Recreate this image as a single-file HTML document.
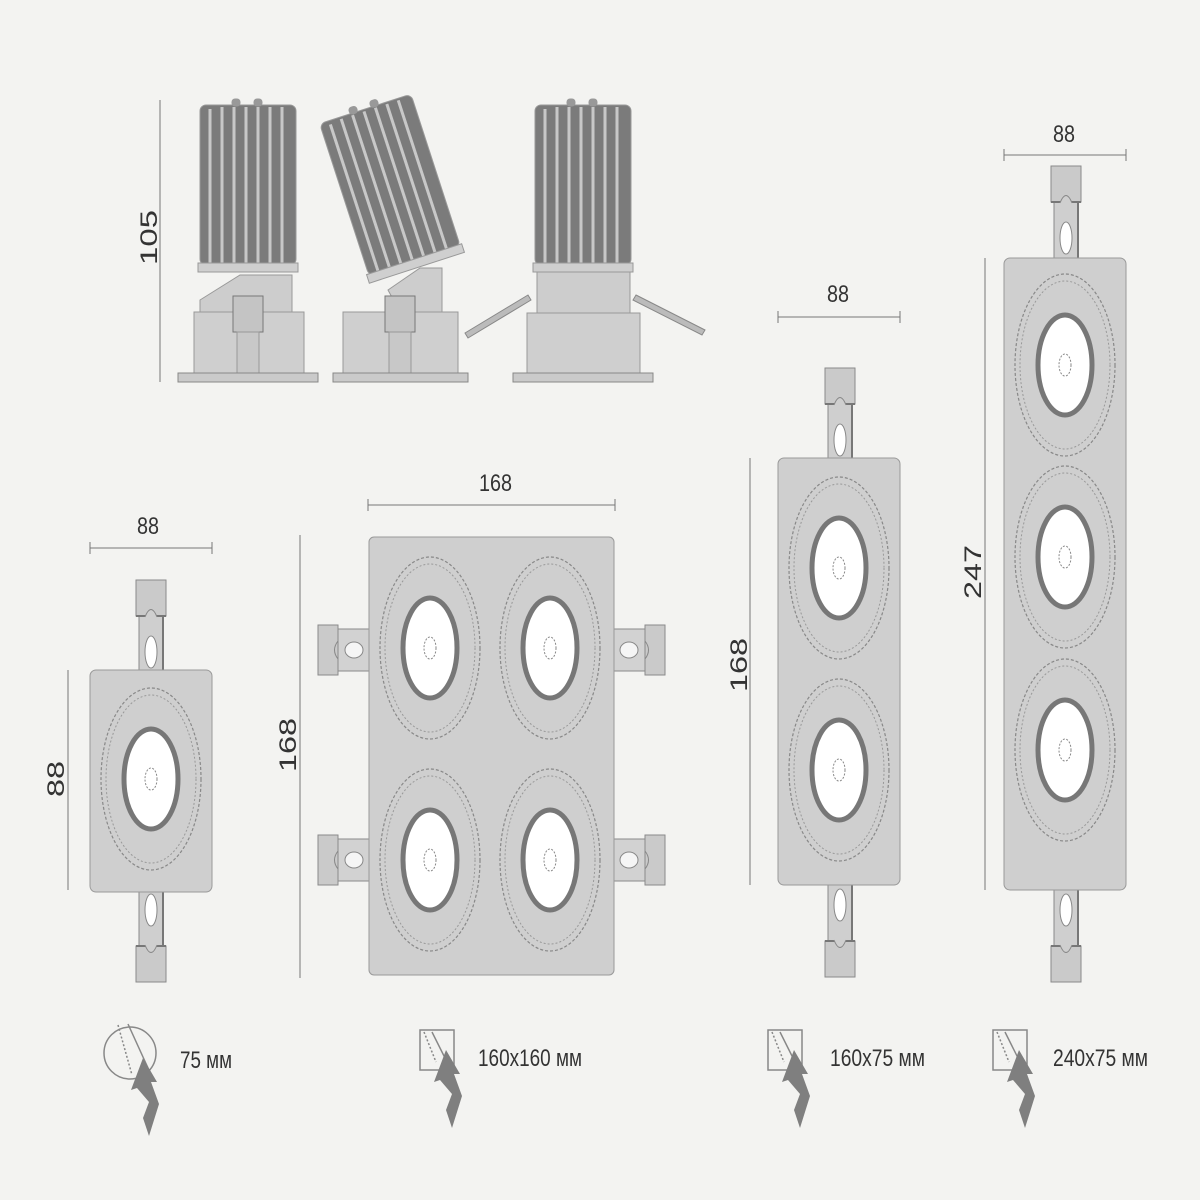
<!DOCTYPE html>
<html><head><meta charset="utf-8"><style>
html,body{margin:0;padding:0;background:#f3f3f1}
svg{display:block}
text{font-family:"Liberation Sans Narrow","Liberation Sans",sans-serif;fill:#333}
</style></head><body>
<svg width="1200" height="1200" viewBox="0 0 1200 1200" xmlns="http://www.w3.org/2000/svg">
<defs>
<g id="tab">
<rect x="0" y="0" width="30" height="36" fill="#cacaca" stroke="#8a8a8a" stroke-width="1"/>
<rect x="3" y="36" width="24" height="56" fill="#cfcfcf" stroke="#8a8a8a" stroke-width="1"/>
<line x1="0" y1="36" x2="30" y2="36" stroke="#777" stroke-width="2"/>
<path d="M9 37 Q15 22 21 37" fill="#cfcfcf" stroke="#888"/>
<ellipse cx="15" cy="72" rx="6" ry="16" fill="#fff" stroke="#888"/>
<line x1="27" y1="36" x2="27" y2="92" stroke="#777" stroke-width="2"/>
</g>
<g id="stab">
<rect x="0" y="0" width="20" height="50" fill="#cacaca" stroke="#8a8a8a"/>
<rect x="20" y="4" width="32" height="42" fill="#d2d2d2" stroke="#8a8a8a"/>
<path d="M20 16 Q13 25 20 34" fill="none" stroke="#888"/>
<ellipse cx="36" cy="25" rx="9" ry="8" fill="#f5f5f5" stroke="#888"/>
</g>
<g id="lens">
<ellipse cx="0" cy="0" rx="50" ry="91" fill="none" stroke="#888" stroke-width="1.2" stroke-dasharray="3 2"/>
<ellipse cx="0" cy="0" rx="45" ry="84" fill="none" stroke="#999" stroke-width="1" stroke-dasharray="2 2"/>
<ellipse cx="0" cy="0" rx="27" ry="50" fill="#fff" stroke="#777" stroke-width="5"/>
<ellipse cx="0" cy="0" rx="6" ry="11" fill="none" stroke="#888" stroke-width="1" stroke-dasharray="2 1.5"/>
</g>
<g id="fins">
<rect x="0" y="0" width="96" height="160" rx="6" fill="#7b7b7b"/>
<g stroke="#c8c8c8" stroke-width="3">
<line x1="10" y1="4" x2="10" y2="158"/><line x1="22" y1="2" x2="22" y2="158"/><line x1="34" y1="2" x2="34" y2="158"/><line x1="46" y1="2" x2="46" y2="158"/><line x1="58" y1="2" x2="58" y2="158"/><line x1="70" y1="2" x2="70" y2="158"/><line x1="82" y1="2" x2="82" y2="158"/>
</g>
<rect x="-2" y="158" width="100" height="9" fill="#cfcfcf" stroke="#999"/>
<rect x="32" y="-6" width="8" height="7" rx="3" fill="#999"/><rect x="54" y="-6" width="8" height="7" rx="3" fill="#999"/>
</g>
<g id="arrowicon" fill="#7f7f7f">
<polygon points="0,0 14,24 8,24 16,46 6,78 0,60 6,44 -6,30 -12,32"/>
</g>
</defs>

<g stroke="#777" stroke-width="1" fill="none">
<line x1="160" y1="100" x2="160" y2="382"/>
<line x1="90" y1="548" x2="212" y2="548"/><line x1="90" y1="542" x2="90" y2="554"/><line x1="212" y1="542" x2="212" y2="554"/>
<line x1="68" y1="670" x2="68" y2="890"/>
<line x1="368" y1="505" x2="615" y2="505"/><line x1="368" y1="499" x2="368" y2="511"/><line x1="615" y1="499" x2="615" y2="511"/>
<line x1="300" y1="535" x2="300" y2="978"/>
<line x1="778" y1="317" x2="900" y2="317"/><line x1="778" y1="311" x2="778" y2="323"/><line x1="900" y1="311" x2="900" y2="323"/>
<line x1="750" y1="458" x2="750" y2="885"/>
<line x1="1004" y1="155" x2="1126" y2="155"/><line x1="1004" y1="149" x2="1004" y2="161"/><line x1="1126" y1="149" x2="1126" y2="161"/>
<line x1="985" y1="258" x2="985" y2="890"/>
</g>
<g font-size="24">
<text x="137" y="534" textLength="22" lengthAdjust="spacingAndGlyphs">88</text>
<text x="479" y="491" textLength="33" lengthAdjust="spacingAndGlyphs">168</text>
<text x="827" y="302" textLength="22" lengthAdjust="spacingAndGlyphs">88</text>
<text x="1053" y="142" textLength="22" lengthAdjust="spacingAndGlyphs">88</text>
<text transform="translate(157,265) rotate(-90)" textLength="55" lengthAdjust="spacingAndGlyphs">105</text>
<text transform="translate(64,797) rotate(-90)" textLength="36" lengthAdjust="spacingAndGlyphs">88</text>
<text transform="translate(296,772) rotate(-90)" textLength="54" lengthAdjust="spacingAndGlyphs">168</text>
<text transform="translate(747,692) rotate(-90)" textLength="54" lengthAdjust="spacingAndGlyphs">168</text>
<text transform="translate(981,599) rotate(-90)" textLength="54" lengthAdjust="spacingAndGlyphs">247</text>
</g>

<g stroke="#999" stroke-width="1">
<use href="#fins" x="200" y="105"/>
<polygon points="200,300 240,275 292,275 292,312 200,312" fill="#cdcdcd"/>
<rect x="194" y="312" width="110" height="62" fill="#cfcfcf"/>
<rect x="233" y="296" width="30" height="36" fill="#c4c4c4" stroke="#777"/>
<rect x="237" y="332" width="22" height="42" fill="#c8c8c8"/>
<rect x="178" y="373" width="140" height="9" fill="#cacaca" stroke="#888"/>
<g transform="rotate(-18 390 185)"><use href="#fins" x="342" y="105"/></g>
<polygon points="420,268 442,268 442,312 400,312 388,290" fill="#cdcdcd"/>
<rect x="343" y="312" width="115" height="62" fill="#cfcfcf"/>
<rect x="385" y="296" width="30" height="36" fill="#c4c4c4" stroke="#777"/>
<rect x="389" y="332" width="22" height="42" fill="#c8c8c8"/>
<rect x="333" y="373" width="135" height="9" fill="#cacaca" stroke="#888"/>
<use href="#fins" x="535" y="105"/>
<rect x="537" y="272" width="93" height="42" fill="#cdcdcd"/>
<rect x="527" y="313" width="113" height="61" fill="#cfcfcf"/>
<rect x="513" y="373" width="140" height="9" fill="#cacaca" stroke="#888"/>
<polygon points="465,333 528,295 531,300 468,338" fill="#bbb" stroke="#888"/>
<polygon points="636,295 705,330 702,335 633,300" fill="#bbb" stroke="#888"/>
</g>

<use href="#tab" x="136" y="580"/>
<g transform="translate(136,982) scale(1,-1)"><use href="#tab"/></g>
<rect x="90" y="670" width="122" height="222" rx="6" fill="#cfcfcf" stroke="#999"/>
<use href="#lens" x="151" y="779"/>

<use href="#stab" x="318" y="625"/>
<use href="#stab" x="318" y="835"/>
<g transform="translate(665,625) scale(-1,1)"><use href="#stab"/></g>
<g transform="translate(665,835) scale(-1,1)"><use href="#stab"/></g>
<rect x="369" y="537" width="245" height="438" rx="5" fill="#cfcfcf" stroke="#999"/>
<use href="#lens" x="430" y="648"/>
<use href="#lens" x="550" y="648"/>
<use href="#lens" x="430" y="860"/>
<use href="#lens" x="550" y="860"/>

<use href="#tab" x="825" y="368"/>
<g transform="translate(825,977) scale(1,-1)"><use href="#tab"/></g>
<rect x="778" y="458" width="122" height="427" rx="6" fill="#cfcfcf" stroke="#999"/>
<use href="#lens" x="839" y="568"/>
<use href="#lens" x="839" y="770"/>

<use href="#tab" x="1051" y="166"/>
<g transform="translate(1051,982) scale(1,-1)"><use href="#tab"/></g>
<rect x="1004" y="258" width="122" height="632" rx="6" fill="#cfcfcf" stroke="#999"/>
<use href="#lens" x="1065" y="365"/>
<use href="#lens" x="1065" y="557"/>
<use href="#lens" x="1065" y="750"/>

<circle cx="130" cy="1053" r="26" fill="none" stroke="#888" stroke-width="1.5"/>
<g stroke="#888" stroke-width="1.5"><line x1="118" y1="1025" x2="132" y2="1075" stroke-dasharray="2 2"/><line x1="128" y1="1024" x2="148" y2="1068"/></g>
<use href="#arrowicon" x="143" y="1058"/>

<g fill="none" stroke="#888" stroke-width="1.5">
<rect x="420" y="1030" width="34" height="40"/>
<rect x="768" y="1030" width="34" height="40"/>
<rect x="993" y="1030" width="34" height="40"/>
</g>
<g stroke="#888" stroke-width="1.5">
<line x1="424" y1="1032" x2="436" y2="1062" stroke-dasharray="2 2"/><line x1="432" y1="1032" x2="446" y2="1060"/>
<line x1="772" y1="1032" x2="784" y2="1062" stroke-dasharray="2 2"/><line x1="780" y1="1032" x2="794" y2="1060"/>
<line x1="997" y1="1032" x2="1009" y2="1062" stroke-dasharray="2 2"/><line x1="1005" y1="1032" x2="1019" y2="1060"/>
</g>
<use href="#arrowicon" x="446" y="1050"/>
<use href="#arrowicon" x="794" y="1050"/>
<use href="#arrowicon" x="1019" y="1050"/>

<g font-size="24">
<text x="180" y="1068" textLength="52" lengthAdjust="spacingAndGlyphs">75 мм</text>
<text x="478" y="1066" textLength="104" lengthAdjust="spacingAndGlyphs">160x160 мм</text>
<text x="830" y="1066" textLength="95" lengthAdjust="spacingAndGlyphs">160x75 мм</text>
<text x="1053" y="1066" textLength="95" lengthAdjust="spacingAndGlyphs">240x75 мм</text>
</g>
</svg>
</body></html>
